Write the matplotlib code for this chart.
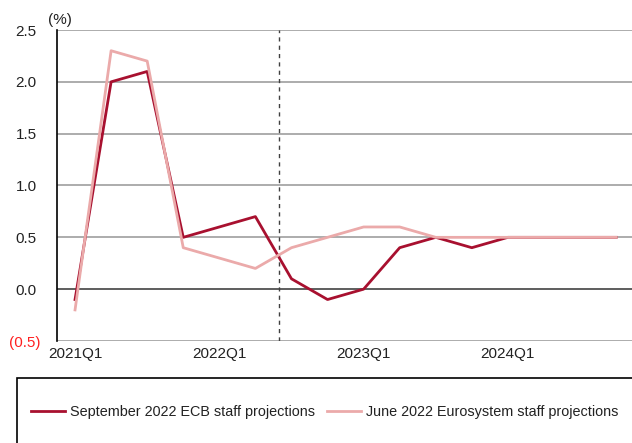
import numpy as np
import matplotlib
matplotlib.use("Agg")
import matplotlib.pyplot as plt
import matplotlib.transforms as mtransforms
from matplotlib.patches import Rectangle

plt.rcParams['font.family'] = ['Liberation Sans', 'DejaVu Sans']

quarters = ['2021Q1', '2021Q2', '2021Q3', '2021Q4',
            '2022Q1', '2022Q2', '2022Q3', '2022Q4',
            '2023Q1', '2023Q2', '2023Q3', '2023Q4',
            '2024Q1', '2024Q2', '2024Q3', '2024Q4']
sept_ecb = [-0.1, 2.0, 2.1, 0.5, 0.6, 0.7, 0.1, -0.1,
            0.0, 0.4, 0.5, 0.4, 0.5, 0.5, 0.5, 0.5]
june_eurosystem = [-0.2, 2.3, 2.2, 0.4, 0.3, 0.2, 0.4, 0.5,
                   0.6, 0.6, 0.5, 0.5, 0.5, 0.5, 0.5, 0.5]
ytick_vals = [-0.5, 0.0, 0.5, 1.0, 1.5, 2.0, 2.5]
ytick_labels = ['(0.5)', '0.0', '0.5', '1.0', '1.5', '2.0', '2.5']
cutoff = 5.65  # projection start marker

red = '#A8102F'
pink = '#EBAAAA'

fig = plt.figure(figsize=(6.32, 4.43), dpi=100)
ax = fig.add_axes([57 / 632, 1 - 341 / 443, 1 - 57 / 632, (341 - 30) / 443])

x = np.arange(len(quarters))
for yv in ytick_vals:
    if yv == 0:
        ax.axhline(yv, color='#505050', lw=1.3, zorder=1)
    else:
        ax.axhline(yv, color='#A6A6A6', lw=1.3, zorder=1)
ax.axvline(cutoff, color='#404040', lw=1.0, ls=(0, (3, 3)), zorder=1)

ax.plot(x, sept_ecb, color=red, lw=2.0, label='September 2022 ECB staff projections', zorder=3)
ax.plot(x, june_eurosystem, color=pink, lw=2.0, label='June 2022 Eurosystem staff projections', zorder=4)

ax.set_xlim(-0.5, 15.44)
ax.set_ylim(-0.5, 2.5)
ax.set_yticks(ytick_vals)
ax.set_yticklabels(ytick_labels)
ax.set_xticks(x[::4])
ax.set_xticklabels(quarters[::4])
ax.tick_params(axis='both', length=0, labelsize=11, labelcolor='#222222')
ax.tick_params(axis='y', pad=14.5)
ax.tick_params(axis='x', pad=4)
neg = ax.get_yticklabels()[0]
neg.set_color('#FF2020')
neg.set_transform(neg.get_transform() + mtransforms.ScaledTranslation(4 / 100, 0, fig.dpi_scale_trans))

for s in ['top', 'right', 'bottom']:
    ax.spines[s].set_visible(False)
ax.spines['left'].set_color('black')
ax.spines['left'].set_linewidth(1.2)

ax.text(0.005, 1.01, '(%)', transform=ax.transAxes, ha='center', va='bottom',
        fontsize=11, color='#222222')

# legend box
fig.patches.append(Rectangle((17 / 632, -0.1), 1.0, 0.1 + 1 - 378 / 443,
                             transform=fig.transFigure, fill=False,
                             edgecolor='black', lw=1.2))
fig.legend(loc='center left', bbox_to_anchor=(31 / 632, 1 - 412 / 443),
           ncol=2, frameon=False, fontsize=10.4, handlelength=2.35,
           handletextpad=0.33, columnspacing=0.85, borderpad=0,
           borderaxespad=0, labelcolor='#222222')

fig.savefig('out.png', dpi=100)
